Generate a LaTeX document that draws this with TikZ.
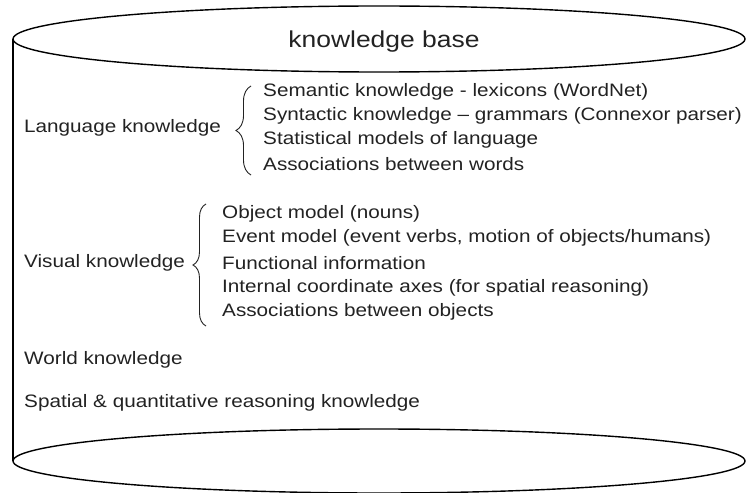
\documentclass[tikz,border=0pt]{standalone}
\usepackage{fontspec}
\setmainfont{Liberation Sans}[FakeStretch=1.15]
\usetikzlibrary{decorations.pathreplacing}
\definecolor{ink}{HTML}{222222}
\tikzset{
  lbl/.style={anchor=west,inner sep=0pt,text=ink,font=\fontsize{18}{20}\selectfont},
  ttl/.style={inner sep=0pt,text=ink,font=\fontsize{23}{25}\selectfont},
  outline/.style={draw=black,line width=1.4pt},
  bracestyle/.style={draw=ink,line width=0.9pt,decorate}
}
\begin{document}
\begin{tikzpicture}[x=1pt,y=-1pt]
\useasboundingbox (0,0) rectangle (746,492);
% cylinder
\draw[outline] (13,39) -- (13,461);
\draw[outline] (379,39) ellipse [x radius=366, y radius=33];
\draw[outline] (379,461) ellipse [x radius=366, y radius=32];
\node[ttl] (title) at (384,42) {knowledge base};
% language
\node[lbl] (lang) at (24,128) {Language knowledge};
\coordinate (lb1) at (251,175);
\coordinate (lb2) at (251,86);
\draw[bracestyle,decoration={brace,amplitude=15pt}] (lb1) -- (lb2);
\node[lbl] (l1) at (263,92) {Semantic knowledge - lexicons (WordNet)};
\node[lbl] (l2) at (263,116) {Syntactic knowledge – grammars (Connexor parser)};
\node[lbl] (l3) at (263,140) {Statistical models of language};
\node[lbl] (l4) at (263,164) {Associations between words};
% visual
\node[lbl] (vis) at (24,263) {Visual knowledge};
\coordinate (vb1) at (206,326);
\coordinate (vb2) at (206,204);
\draw[bracestyle,decoration={brace,amplitude=13pt}] (vb1) -- (vb2);
\node[lbl] (v1) at (222,214) {Object model (nouns)};
\node[lbl] (v2) at (222,238) {Event model (event verbs, motion of objects/humans)};
\node[lbl] (v3) at (222,263) {Functional information};
\node[lbl] (v4) at (222,288) {Internal coordinate axes (for spatial reasoning)};
\node[lbl] (v5) at (222,312) {Associations between objects};
% others
\node[lbl] (world) at (24,360) {World knowledge};
\node[lbl] (spatial) at (24,403) {Spatial \& quantitative reasoning knowledge};
\end{tikzpicture}
\end{document}
